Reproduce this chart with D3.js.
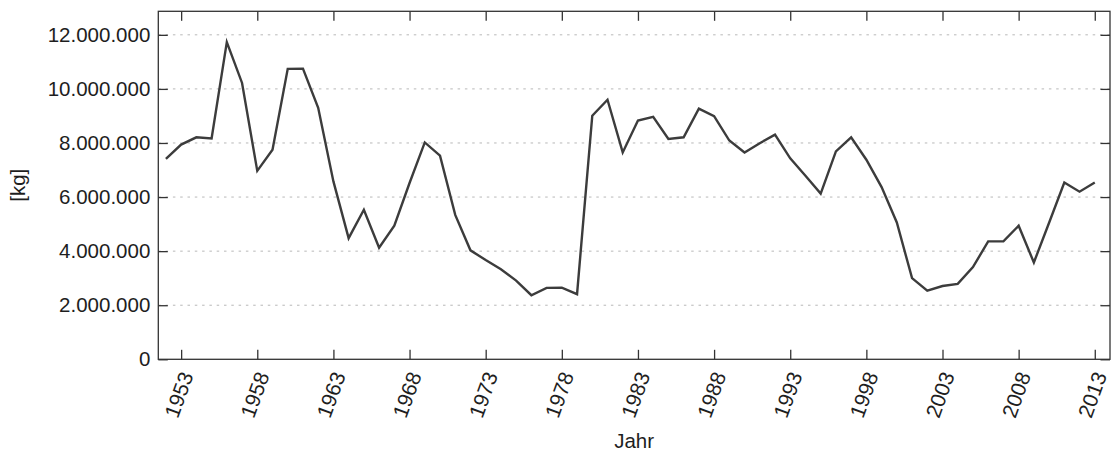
<!DOCTYPE html>
<html>
<head>
<meta charset="utf-8">
<script src="https://cdn.jsdelivr.net/npm/d3@7"></script>
<style>
  body { margin: 0; background: #fff; }
  svg { display: block; font-family: "Liberation Sans", Arial, sans-serif; }
</style>
</head>
<body>
<div id="chart-container"></div>
<script>
const years = [1952, 1953, 1954, 1955, 1956, 1957, 1958, 1959, 1960, 1961,
    1962, 1963, 1964, 1965, 1966, 1967, 1968, 1969, 1970, 1971,
    1972, 1973, 1974, 1975, 1976, 1977, 1978, 1979, 1980, 1981,
    1982, 1983, 1984, 1985, 1986, 1987, 1988, 1989, 1990, 1991,
    1992, 1993, 1994, 1995, 1996, 1997, 1998, 1999, 2000, 2001,
    2002, 2003, 2004, 2005, 2006, 2007, 2008, 2009, 2010, 2011,
    2012, 2013];

const kg = [7410000, 7940000, 8210000, 8170000, 11730000, 10220000, 6970000, 7750000, 10740000, 10750000,
    9300000, 6580000, 4480000, 5530000, 4130000, 4940000, 6520000, 8020000, 7530000, 5340000,
    4030000, 3670000, 3330000, 2910000, 2370000, 2640000, 2650000, 2410000, 9010000, 9600000,
    7650000, 8830000, 8970000, 8150000, 8210000, 9270000, 8990000, 8090000, 7650000, 7990000,
    8310000, 7430000, 6790000, 6130000, 7690000, 8210000, 7380000, 6370000, 5060000, 3000000,
    2540000, 2710000, 2790000, 3410000, 4360000, 4360000, 4940000, 3580000, 5050000, 6540000,
    6200000, 6540000];

const xTicks = [1953, 1958, 1963, 1968, 1973, 1978, 1983, 1988, 1993, 1998, 2003, 2008, 2013];
const yTicks = [0, 2000000, 4000000, 6000000, 8000000, 10000000, 12000000];

const xLabel = "Jahr";
const yLabel = "[kg]";

const data = years.map((year, i) => ({ year, value: kg[i] }));

const containerWidth = 1113;
const containerHeight = 452;
const margin = { top: 11.3, right: 3, bottom: 92.7, left: 158.3 };
const width = containerWidth - margin.left - margin.right;
const height = containerHeight - margin.top - margin.bottom;

const de = d3.formatLocale({ decimal: ",", thousands: ".", grouping: [3], currency: ["", " €"] });
const fmt = de.format(",");

const svg = d3.select("#chart-container")
    .append("svg")
    .attr("width", containerWidth)
    .attr("height", containerHeight);

const g = svg.append("g")
    .attr("transform", "translate(" + margin.left + "," + margin.top + ")");

const x = d3.scaleLinear()
    .domain([1951.5, 2014])
    .range([0, width]);

const y = d3.scaleLinear()
    .domain([0, 12870000])
    .range([height, 0]);

// Dotted grid lines.
g.append("g")
    .selectAll("line")
    .data(yTicks.filter((d) => d > 0))
    .enter()
    .append("line")
    .attr("x1", 0)
    .attr("x2", width)
    .attr("y1", (d) => y(d))
    .attr("y2", (d) => y(d))
    .attr("stroke", "#b8b8b8")
    .attr("stroke-width", 1)
    .attr("stroke-dasharray", "2.5,4.8");

// Axes with inward ticks on all four sides.
const tick = 9.5;
const bottomAxis = g.append("g")
    .attr("transform", "translate(0," + height + ")")
    .call(d3.axisBottom(x).tickValues(xTicks).tickFormat(d3.format("d")).tickSizeInner(-tick).tickSizeOuter(0));

g.append("g")
    .call(d3.axisTop(x).tickValues(xTicks).tickFormat("").tickSizeInner(-tick).tickSizeOuter(0));

g.append("g")
    .call(d3.axisLeft(y).tickValues(yTicks).tickFormat(fmt).tickSizeInner(-tick).tickSizeOuter(0).tickPadding(8));

g.append("g")
    .attr("transform", "translate(" + width + ",0)")
    .call(d3.axisRight(y).tickValues(yTicks).tickFormat("").tickSizeInner(-tick).tickSizeOuter(0));

g.selectAll(".domain").remove();
g.selectAll(".tick line").attr("stroke", "#333").attr("stroke-width", 1.3);
g.selectAll(".tick text")
    .attr("fill", "#1e1e1e")
    .style("font-size", "20.5px")
    .style("font-family", "'Liberation Sans', Arial, sans-serif");

// Rotated year labels.
bottomAxis.selectAll(".tick text")
    .attr("text-anchor", "end")
    .attr("x", 0)
    .attr("y", 0)
    .attr("dy", 0)
    .style("font-size", "21px")
    .attr("transform", "translate(12,16) rotate(-70)");

// Frame.
g.append("rect")
    .attr("width", width)
    .attr("height", height)
    .attr("fill", "none")
    .attr("stroke", "#333")
    .attr("stroke-width", 1.3);

// Draw the line.
g.append("path")
    .datum(data)
    .attr("fill", "none")
    .attr("stroke", "#3c3c3c")
    .attr("stroke-width", 2.4)
    .attr("stroke-linejoin", "miter")
    .attr("d", d3.line()
        .x((d) => x(d.year))
        .y((d) => y(d.value)));

// Axis titles.
svg.append("text")
    .attr("x", margin.left + width / 2)
    .attr("y", 448)
    .attr("text-anchor", "middle")
    .attr("fill", "#1e1e1e")
    .style("font-size", "20.5px")
    .text(xLabel);

svg.append("text")
    .attr("transform", "translate(25," + (margin.top + height / 2) + ") rotate(-90)")
    .attr("text-anchor", "middle")
    .attr("fill", "#1e1e1e")
    .style("font-size", "20.5px")
    .text(yLabel);
</script>
</body>
</html>
